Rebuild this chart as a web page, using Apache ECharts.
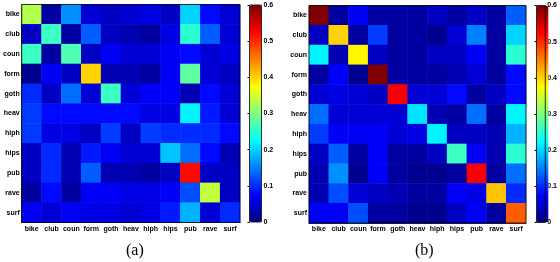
<!DOCTYPE html>
<html>
<head>
<meta charset="utf-8">
<script src="https://cdn.jsdelivr.net/npm/echarts@6/dist/echarts.min.js"></script>
<style>
  html, body { margin: 0; padding: 0; background: #fff; }
  #chart { width: 560px; height: 262px; }
</style>
</head>
<body>
<div id="chart"></div>
<script>
// genre labels (rows top -> bottom, columns left -> right)
const genres = ['bike', 'club', 'coun', 'form', 'goth', 'heav', 'hiph', 'hips', 'pub', 'rave', 'surf']

// (a) confusion matrix
const matrixA = [
  [0.33, 0.02, 0.16, 0.05, 0.04, 0.05, 0.06, 0.04, 0.20, 0.08, 0.05],
  [0.04, 0.26, 0.02, 0.13, 0.04, 0.03, 0.02, 0.06, 0.25, 0.13, 0.05],
  [0.26, 0.02, 0.27, 0.04, 0.07, 0.05, 0.05, 0.07, 0.08, 0.05, 0.06],
  [0.01, 0.07, 0.04, 0.40, 0.03, 0.03, 0.02, 0.07, 0.28, 0.05, 0.04],
  [0.10, 0.04, 0.14, 0.05, 0.26, 0.05, 0.07, 0.07, 0.03, 0.08, 0.05],
  [0.11, 0.08, 0.08, 0.08, 0.08, 0.08, 0.06, 0.06, 0.22, 0.09, 0.05],
  [0.11, 0.06, 0.06, 0.04, 0.11, 0.04, 0.11, 0.10, 0.10, 0.10, 0.08],
  [0.04, 0.10, 0.03, 0.09, 0.07, 0.05, 0.05, 0.19, 0.14, 0.08, 0.03],
  [0.04, 0.10, 0.03, 0.13, 0.03, 0.03, 0.02, 0.04, 0.52, 0.04, 0.04],
  [0.02, 0.08, 0.02, 0.07, 0.07, 0.06, 0.06, 0.07, 0.12, 0.34, 0.04],
  [0.07, 0.05, 0.07, 0.06, 0.06, 0.05, 0.06, 0.09, 0.18, 0.05, 0.10]
]

// (b) confusion matrix
const matrixB = [
  [0.60, 0.02, 0.07, 0.02, 0.02, 0.02, 0.04, 0.02, 0.04, 0.02, 0.13],
  [0.04, 0.40, 0.02, 0.11, 0.02, 0.02, 0.01, 0.05, 0.15, 0.02, 0.20],
  [0.22, 0.03, 0.38, 0.04, 0.02, 0.02, 0.04, 0.04, 0.07, 0.02, 0.25],
  [0.02, 0.07, 0.01, 0.60, 0.02, 0.02, 0.02, 0.03, 0.05, 0.02, 0.08],
  [0.05, 0.06, 0.05, 0.04, 0.53, 0.05, 0.05, 0.08, 0.02, 0.04, 0.08],
  [0.14, 0.05, 0.05, 0.05, 0.05, 0.21, 0.03, 0.02, 0.14, 0.02, 0.22],
  [0.11, 0.07, 0.07, 0.07, 0.05, 0.06, 0.22, 0.04, 0.04, 0.03, 0.18],
  [0.04, 0.13, 0.02, 0.07, 0.02, 0.02, 0.04, 0.26, 0.07, 0.03, 0.25],
  [0.03, 0.16, 0.01, 0.07, 0.02, 0.01, 0.01, 0.02, 0.53, 0.02, 0.14],
  [0.03, 0.12, 0.05, 0.04, 0.03, 0.02, 0.02, 0.07, 0.06, 0.41, 0.10],
  [0.07, 0.07, 0.12, 0.02, 0.02, 0.01, 0.01, 0.04, 0.07, 0.02, 0.47]
]

// colour bar scale
const scaleMin = 0
const scaleMax = 0.6
const scaleStep = 0.1
const panelLabels = ['(a)', '(b)']

const jet = ['#00007f', '#0000ff', '#007fff', '#00ffff', '#7fff7f', '#ffff00', '#ff7f00', '#ff0000', '#7f0000']

function toCells(m) {
  const out = []
  m.forEach((row, r) => row.forEach((v, c) => out.push([c, r, v])))
  return out
}

const labelFont = { fontFamily: 'Liberation Sans', fontSize: 7, fontWeight: 'bold', color: '#000' }

function catX(gi) {
  return {
    type: 'category', gridIndex: gi, data: genres, position: 'bottom',
    axisLine: { show: true, lineStyle: { color: '#000', width: 0.8 } },
    axisTick: { show: true, inside: true, length: 2, alignWithLabel: true, lineStyle: { color: '#000' } },
    axisLabel: Object.assign({ margin: 3, interval: 0 }, labelFont),
    splitLine: { show: false }
  }
}
function catY(gi) {
  return {
    type: 'category', gridIndex: gi, data: genres, inverse: true,
    axisLine: { show: true, lineStyle: { color: '#000', width: 0.8 } },
    axisTick: { show: true, inside: true, length: 2, alignWithLabel: true, lineStyle: { color: '#000' } },
    axisLabel: Object.assign({ margin: 2, interval: 0 }, labelFont),
    splitLine: { show: false }
  }
}
function barY(gi) {
  return {
    type: 'value', gridIndex: gi, position: 'right', min: scaleMin, max: scaleMax, interval: scaleStep,
    axisLine: { show: false },
    axisTick: { show: true, inside: true, length: 2, lineStyle: { color: '#000' } },
    axisLabel: Object.assign({ margin: 2, formatter: v => String(+v.toFixed(1)) }, labelFont),
    splitLine: { show: false }
  }
}
function barX(gi) {
  return { type: 'value', gridIndex: gi, show: false, min: 0, max: 1 }
}

const chart = echarts.init(document.getElementById('chart'), null, { renderer: 'canvas' })

chart.setOption({
  animation: false,
  backgroundColor: '#fff',
  grid: [
    { left: 17.5, top: 4.5, width: 222.5, height: 218, show: true, borderColor: '#000', borderWidth: 0.8, z: 5 },
    { left: 309, top: 5.5, width: 217, height: 217.5, show: true, borderColor: '#000', borderWidth: 0.8, z: 5 },
    { left: 249.5, top: 5, width: 12, height: 217, show: true, borderColor: '#000', borderWidth: 0.8, z: 10 },
    { left: 536.5, top: 5.5, width: 12, height: 217, show: true, borderColor: '#000', borderWidth: 0.8, z: 10 }
  ],
  xAxis: [catX(0), catX(1), barX(2), barX(3)],
  yAxis: [catY(0), catY(1), barY(2), barY(3)],
  visualMap: [
    {
      type: 'continuous', seriesIndex: 0, min: scaleMin, max: scaleMax, calculable: false,
      left: 249.5, top: 5, itemWidth: 12, itemHeight: 217, padding: 0, text: ['', ''], showLabel: false,
      inRange: { color: jet }
    },
    {
      type: 'continuous', seriesIndex: 1, min: scaleMin, max: scaleMax, calculable: false,
      left: 536.5, top: 5.5, itemWidth: 12, itemHeight: 217, padding: 0, text: ['', ''], showLabel: false,
      inRange: { color: jet }
    }
  ],
  series: [
    {
      type: 'heatmap', xAxisIndex: 0, yAxisIndex: 0, data: toCells(matrixA),
      emphasis: { disabled: true }, itemStyle: { borderWidth: 0 }
    },
    {
      type: 'heatmap', xAxisIndex: 1, yAxisIndex: 1, data: toCells(matrixB),
      emphasis: { disabled: true }, itemStyle: { borderWidth: 0 }
    }
  ],
  graphic: [
    {
      type: 'text', left: 126, top: 243,
      style: { text: panelLabels[0], font: '16px "Liberation Serif"', fill: '#000' }
    },
    {
      type: 'text', left: 415, top: 243,
      style: { text: panelLabels[1], font: '16px "Liberation Serif"', fill: '#000' }
    }
  ]
})
</script>
</body>
</html>
